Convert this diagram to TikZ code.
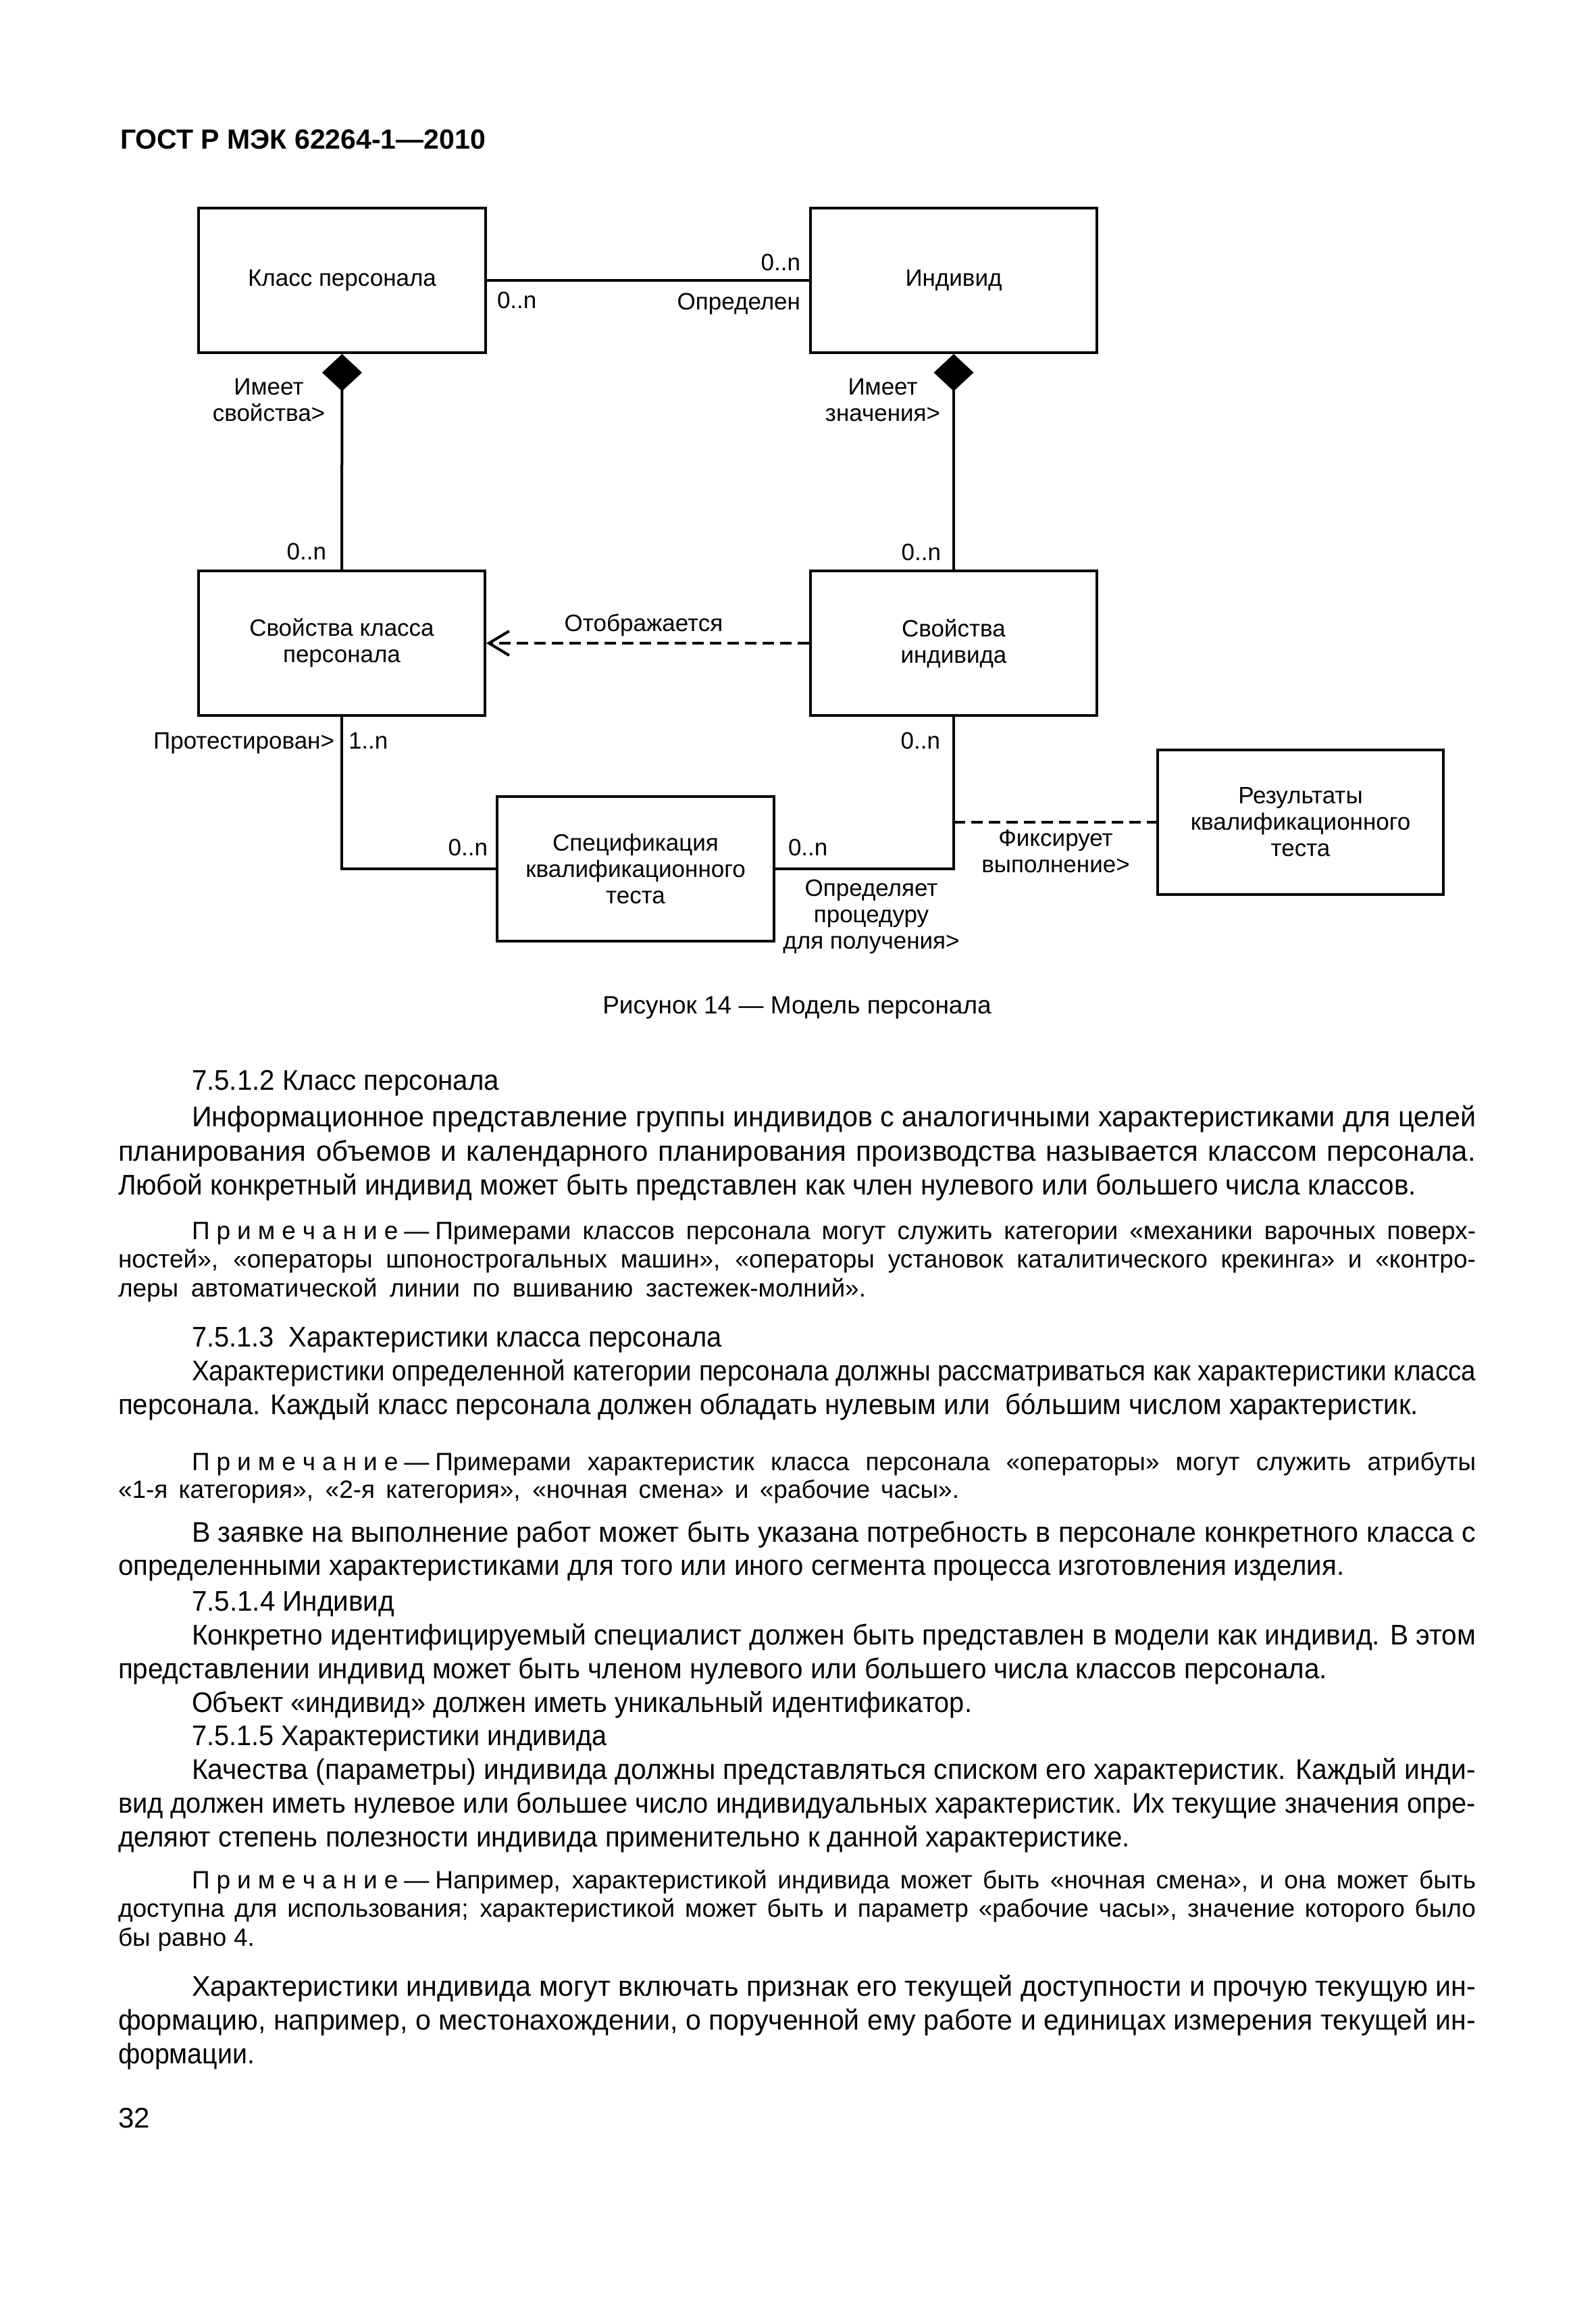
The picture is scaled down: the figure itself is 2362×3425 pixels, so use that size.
\documentclass[tikz,border=0pt]{standalone}
\usepackage{fontspec}
\usepackage{graphicx}
\setmainfont{Liberation Sans}
\usetikzlibrary{arrows.meta}
\newsavebox\lnbox
\newcommand\fitto[2]{\sbox\lnbox{#2}\ifdim\wd\lnbox>#1pt\relax\resizebox{#1pt}{\height}{\usebox\lnbox}\else\makebox[#1pt][s]{#2}\fi}
\newcommand\primech{П\kern10pt р\kern10pt и\kern10pt м\kern10pt е\kern10pt ч\kern10pt а\kern10pt н\kern10pt и\kern10pt е\kern9pt —\kern9pt}
\newcommand\tl[6]{\node[#2] (#1) at (#3,#5) {\fitto{\the\numexpr#4-#3\relax}{#6}};}
\begin{document}
\begin{tikzpicture}[x=1pt,y=-1pt,
  txt/.style={anchor=base west,inner sep=0pt,outer sep=0pt,font=\fontsize{42}{50}\selectfont},
  ntxt/.style={anchor=base west,inner sep=0pt,outer sep=0pt,font=\fontsize{37}{42}\selectfont},
  umlbox/.style={draw,line width=4pt,align=center,inner sep=0pt,font=\fontsize{35}{39}\selectfont},
  lbl/.style={inner sep=0pt,outer sep=0pt,align=center,font=\fontsize{35}{39}\selectfont},
  conn/.style={line width=4pt},
  dashline/.style={line width=4pt,dash pattern=on 17pt off 9pt},
  comp/.style={{Diamond[length=55pt,width=59pt]}-}
]
\fill[white] (0,0) rectangle (2362,3425);
\useasboundingbox (0,0) rectangle (2362,3425);

% header
\node[anchor=base west,inner sep=0pt,font=\bfseries\fontsize{41}{47}\selectfont] (hdr) at (178,221) {ГОСТ Р МЭК 62264-1—2010};

% boxes
\node[umlbox,minimum width=425pt,minimum height=214pt] (A) at (506.5,415) {Класс персонала};
\node[umlbox,minimum width=424pt,minimum height=214pt] (B) at (1412,415) {Индивид};
\node[umlbox,minimum width=424pt,minimum height=214pt] (C) at (506,952) {Свойства класса\\персонала};
\node[umlbox,minimum width=424pt,minimum height=214pt] (D) at (1412,952) {Свойства\\индивида};
\node[umlbox,minimum width=410pt,minimum height=214pt] (E) at (941,1286) {Спецификация\\квалификационного\\теста};
\node[umlbox,minimum width=423pt,minimum height=214pt] (F) at (1925.5,1217) {Результаты\\квалификационного\\теста};

% connectors
\draw[conn] (A.east) -- (B.west);
\draw[conn,comp] (A.south) -- (C.north);
\draw[conn,comp] (B.south) -- (D.north);
\draw[dashline,-{Straight Barb[length=30pt,width=36pt]}] (D.west) -- (C.east);
\draw[conn] (C.south) |- (E.west);
\draw[conn] (D.south) |- (E.east);
\coordinate (fx) at (D.south |- F.west);
\draw[dashline] (fx) -- (F.west);

% connector labels
\node[lbl,anchor=base west] (m1) at (736,456) {0..n};
\node[lbl,anchor=base east] (m2) at (1185,400) {0..n};
\node[lbl,anchor=base east] (m3) at (1185,458) {Определен};
\node[lbl] (m4) at (398,592) {Имеет\\свойства>};
\node[lbl,anchor=base east] (m5) at (483,828) {0..n};
\node[lbl] (m6) at (1307,592) {Имеет\\значения>};
\node[lbl,anchor=base east] (m7) at (1393,829) {0..n};
\node[lbl,anchor=base] (m8) at (953,934) {Отображается};
\node[lbl,anchor=base east] (m9) at (495,1108) {Протестирован>};
\node[lbl,anchor=base west] (m10) at (516,1108) {1..n};
\node[lbl,anchor=base east] (m11) at (1392,1108) {0..n};
\node[lbl,anchor=base east] (m12) at (722,1266) {0..n};
\node[lbl,anchor=base west] (m13) at (1167,1266) {0..n};
\node[lbl] (m14) at (1563,1260) {Фиксирует\\выполнение>};
\node[lbl] (m15) at (1290,1357) {Определяет\\процедуру\\для получения>};

% caption
\node[anchor=base,inner sep=0pt,font=\fontsize{37}{42}\selectfont] (cap) at (1180,1500) {Рисунок 14 — Модель персонала};

% body text
\tl{t1}{txt}{284}{739}{1613}{7.5.1.2 Класс персонала}
\tl{t2}{txt}{284}{2185}{1667}{Информационное представление группы индивидов с аналогичными характеристиками для целей}
\tl{t3}{txt}{175}{2185}{1718}{планирования объемов и календарного планирования производства называется классом персонала.}
\tl{t4}{txt}{175}{2097}{1768}{Любой конкретный индивид может быть представлен как член нулевого или большего числа классов.}
\tl{n1}{ntxt}{284}{2185}{1834}{\primech Примерами классов персонала могут служить категории «механики варочных поверх-}
\tl{n2}{ntxt}{175}{2185}{1876}{ностей», «операторы шпонострогальных машин», «операторы установок каталитического крекинга» и «контро-}
\tl{n3}{ntxt}{175}{1282}{1919}{леры автоматической линии по вшиванию застежек-молний».}
\tl{t5}{txt}{284}{1069}{1993}{7.5.1.3\ \ Характеристики класса персонала}
\tl{t6}{txt}{284}{2185}{2043}{Характеристики определенной категории персонала должны рассматриваться как характеристики класса}
\tl{t7}{txt}{175}{2100}{2093}{персонала. Каждый класс персонала должен обладать нулевым или\ \ бóльшим числом характеристик.}
\tl{n4}{ntxt}{284}{2185}{2176}{\primech Примерами характеристик класса персонала «операторы» могут служить атрибуты}
\tl{n5}{ntxt}{175}{1420}{2217}{«1-я категория», «2-я категория», «ночная смена» и «рабочие часы».}
\tl{t8}{txt}{284}{2185}{2282}{В заявке на выполнение работ может быть указана потребность в персонале конкретного класса с}
\tl{t9}{txt}{175}{1990}{2331}{определенными характеристиками для того или иного сегмента процесса изготовления изделия.}
\tl{t10}{txt}{284}{584}{2384}{7.5.1.4 Индивид}
\tl{t11}{txt}{284}{2185}{2434}{Конкретно идентифицируемый специалист должен быть представлен в модели как индивид. В этом}
\tl{t12}{txt}{175}{1965}{2484}{представлении индивид может быть членом нулевого или большего числа классов персонала.}
\tl{t13}{txt}{284}{1439}{2534}{Объект «индивид» должен иметь уникальный идентификатор.}
\tl{t14}{txt}{284}{899}{2583}{7.5.1.5 Характеристики индивида}
\tl{t15}{txt}{284}{2185}{2633}{Качества (параметры) индивида должны представляться списком его характеристик. Каждый инди-}
\tl{t16}{txt}{175}{2185}{2683}{вид должен иметь нулевое или большее число индивидуальных характеристик. Их текущие значения опре-}
\tl{t17}{txt}{175}{1673}{2733}{деляют степень полезности индивида применительно к данной характеристике.}
\tl{n6}{ntxt}{284}{2185}{2795}{\primech Например, характеристикой индивида может быть «ночная смена», и она может быть}
\tl{n7}{ntxt}{175}{2185}{2837}{доступна для использования; характеристикой может быть и параметр «рабочие часы», значение которого было}
\tl{n8}{ntxt}{175}{377}{2880}{бы равно 4.}
\tl{t18}{txt}{284}{2185}{2954}{Характеристики индивида могут включать признак его текущей доступности и прочую текущую ин-}
\tl{t19}{txt}{175}{2185}{3004}{формацию, например, о местонахождении, о порученной ему работе и единицах измерения текущей ин-}
\tl{t20}{txt}{175}{377}{3054}{формации.}
\node[txt] (pg) at (175,3149) {32};
\end{tikzpicture}
\end{document}
